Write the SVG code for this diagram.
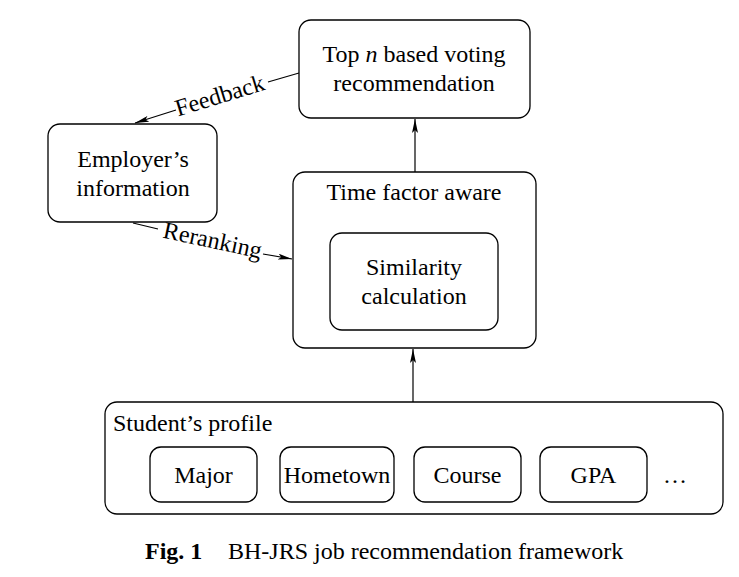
<svg xmlns="http://www.w3.org/2000/svg" width="739" height="577" viewBox="0 0 739 577">
<style>
.box{fill:#fff;stroke:#000;stroke-width:1.3}
.t{font-family:"Liberation Serif","Times New Roman",serif;font-size:24px;fill:#000;text-anchor:middle}
.c{stroke:#000;stroke-width:1.2;fill:none}
.cap{font-family:"Liberation Serif","Times New Roman",serif;font-size:24px;fill:#000}
</style>
<defs>
<marker id="ah" viewBox="0 0 14 6" refX="14" refY="3" markerWidth="14" markerHeight="6" markerUnits="userSpaceOnUse" orient="auto">
<path d="M0,0 L14,3 L0,6 L3,3 Z" fill="#000"/>
</marker>
</defs>
<rect width="739" height="577" fill="#fff"/>
<g id="connectors">
<line class="c" x1="415" y1="172" x2="415" y2="119" marker-end="url(#ah)"/>
<line class="c" x1="413" y1="402" x2="413" y2="349" marker-end="url(#ah)"/>
<path class="c" d="M299,73 L268,82 M176,110 L135,123" marker-end="url(#ah)"/>
<path class="c" d="M133,223 L158,229 M263,254 L292,259" marker-end="url(#ah)"/>
<text class="t" transform="translate(222,103) rotate(-17)">Feedback</text>
<text class="t" transform="translate(211,248) rotate(12)">Reranking</text>
</g>
<g id="top">
<rect class="box" x="299" y="20" width="231" height="98" rx="12"/>
<text class="t" x="414" y="62">Top <tspan font-style="italic">n</tspan> based voting</text>
<text class="t" x="414" y="91">recommendation</text>
</g>
<g id="employer">
<rect class="box" x="48" y="124" width="169" height="98" rx="12"/>
<text class="t" x="133" y="167">Employer’s</text>
<text class="t" x="133" y="196">information</text>
</g>
<g id="time">
<rect class="box" x="293" y="172" width="243" height="176" rx="12"/>
<text class="t" x="414" y="200">Time factor aware</text>
</g>
<g id="similarity">
<rect class="box" x="330" y="233" width="168" height="97" rx="12"/>
<text class="t" x="414" y="275">Similarity</text>
<text class="t" x="414" y="304">calculation</text>
</g>
<g id="student">
<rect class="box" x="105" y="402" width="618" height="112" rx="12"/>
<text class="t" x="113" y="431" style="text-anchor:start">Student’s profile</text>
</g>
<g id="major">
<rect class="box" x="150" y="447" width="107" height="55" rx="11"/>
<text class="t" x="203.5" y="483">Major</text>
</g>
<g id="hometown">
<rect class="box" x="280" y="447" width="114" height="55" rx="11"/>
<text class="t" x="337" y="483">Hometown</text>
</g>
<g id="course">
<rect class="box" x="414" y="447" width="107" height="55" rx="11"/>
<text class="t" x="467.5" y="483">Course</text>
</g>
<g id="gpa">
<rect class="box" x="540" y="447" width="107" height="55" rx="11"/>
<text class="t" x="593.5" y="483">GPA</text>
</g>
<text class="t" x="675" y="483">…</text>
<text class="cap" x="145" y="559" font-weight="bold">Fig. 1</text>
<text class="cap" x="228" y="559">BH-JRS job recommendation framework</text>
</svg>
